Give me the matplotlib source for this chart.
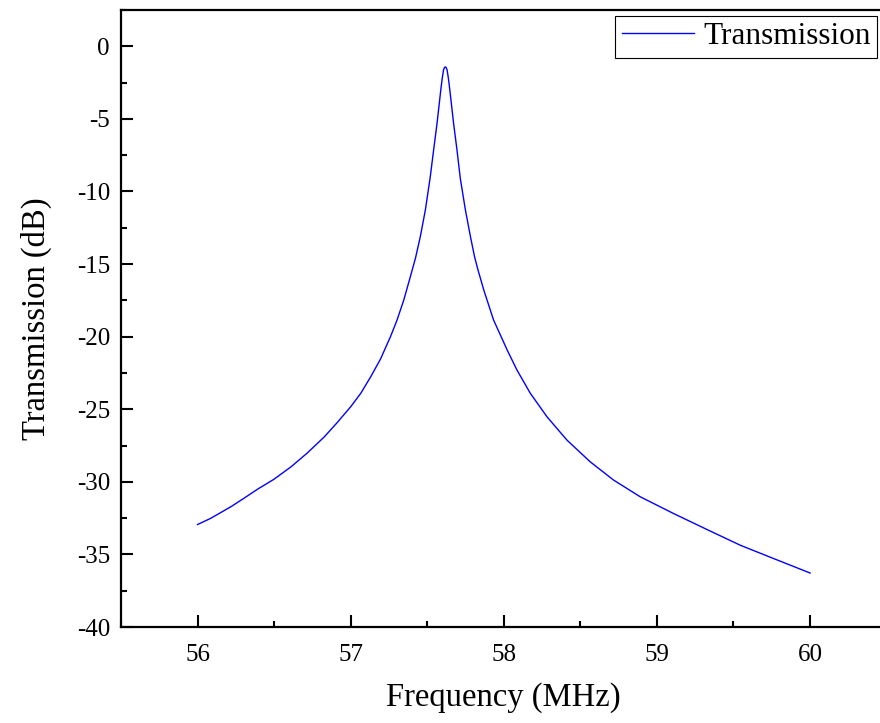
import matplotlib
matplotlib.use('Agg')
import matplotlib.pyplot as plt
from matplotlib.ticker import MultipleLocator

plt.rcParams['font.family'] = ['Liberation Serif', 'DejaVu Serif']
plt.rcParams['axes.unicode_minus'] = False  # 用普通连字符作负号

# 读图得到的数据点 (MHz, dB)
freq = [56.0, 56.085, 56.217, 56.302, 56.39, 56.498, 56.61, 56.716, 56.828, 56.911,
        57.0, 57.066, 57.131, 57.194, 57.26, 57.303, 57.347, 57.39, 57.423, 57.455,
        57.488, 57.52, 57.542, 57.564, 57.59, 57.598, 57.606, 57.612, 57.618, 57.624,
        57.630, 57.638, 57.646, 57.672, 57.694, 57.716, 57.749, 57.782, 57.808, 57.83,
        57.869, 57.933, 58.022, 58.086, 58.173, 58.282, 58.412, 58.564, 58.717, 58.891,
        59.108, 59.326, 59.545, 59.761, 60.0]
trans = [-32.94, -32.52, -31.72, -31.14, -30.52, -29.83, -28.97, -28.02, -26.90, -25.93,
         -24.83, -23.90, -22.76, -21.56, -20.0, -18.85, -17.47, -15.86, -14.6, -13.10,
         -11.26, -8.97, -7.12, -5.3, -2.87, -2.2, -1.65, -1.47, -1.42, -1.47,
         -1.65, -2.2, -2.87, -5.3, -7.12, -9.1, -11.26, -13.10, -14.45, -15.35,
         -16.78, -18.85, -20.92, -22.30, -23.90, -25.52, -27.12, -28.62, -29.88, -31.03,
         -32.18, -33.28, -34.37, -35.28, -36.28]

fig = plt.figure(figsize=(8.8, 7.23), dpi=100)
ax = fig.add_axes([121/880, 96/723, (886.6-121)/880, (627-10)/723])

ax.plot(freq, trans, color='#0000ff', lw=1.0, label='Transmission')

ax.set_xlim(55.5, 60.5)
ax.set_ylim(-40, 2.5)
ax.xaxis.set_major_locator(MultipleLocator(1))
ax.xaxis.set_minor_locator(MultipleLocator(0.5))
ax.yaxis.set_major_locator(MultipleLocator(5))
ax.yaxis.set_minor_locator(MultipleLocator(2.5))

ax.tick_params(which='both', direction='in', top=False, right=False, width=1.5, labelsize=18, pad=8)
ax.tick_params(which='major', length=8.5)
ax.tick_params(which='minor', length=4)
ax.tick_params(axis='x', pad=12)
for s in ax.spines.values():
    s.set_linewidth(1.6)

ax.set_xlabel('Frequency (MHz)', fontsize=23.5, labelpad=12)
ax.set_ylabel('Transmission (dB)', fontsize=23.5, labelpad=18)

leg = ax.legend(loc='upper right', bbox_to_anchor=(0.987, 0.99), fontsize=22.5, fancybox=False,
                framealpha=1, edgecolor='black', borderpad=0.2, handlelength=2.3, handletextpad=0.3,
                borderaxespad=0)
leg.get_frame().set_linewidth(0.8)

fig.savefig('out.png', dpi=100)
